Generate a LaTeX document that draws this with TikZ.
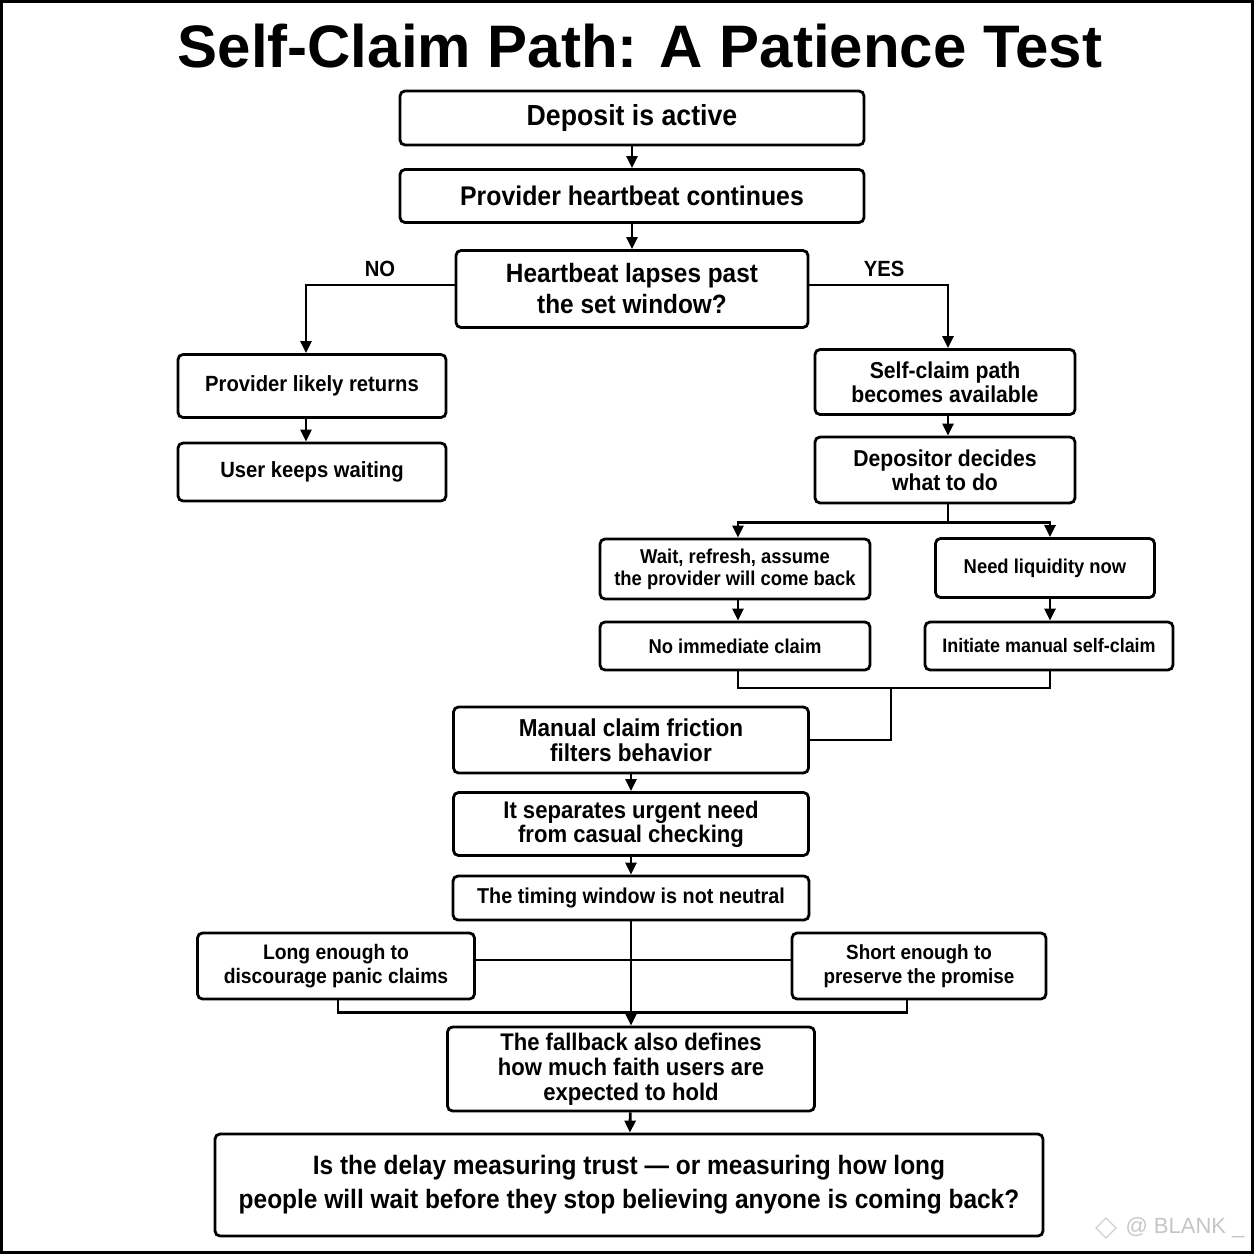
\documentclass[tikz,border=0pt]{standalone}
\usepackage{fontspec}
\setmainfont{Liberation Sans}
\newfontfamily\condfont[FakeStretch=0.92]{Liberation Sans}
\usetikzlibrary{arrows.meta}

\begin{document}
\begin{tikzpicture}[x=1pt,y=-1pt,
    box/.style={draw, line width=2.8pt, rounded corners=5pt, align=center, inner sep=0pt},
    txt/.style 2 args={font=\condfont\bfseries\fontsize{#1pt}{#2pt}\selectfont},
    arr/.style={line width=2.8pt, -{Triangle[length=12pt,width=11pt]}},
    link/.style={line width=2.8pt}]

    % page and frame
    \useasboundingbox (0,0) rectangle (1254,1254);
    \fill[white] (0,0) rectangle (1254,1254);
    \draw[line width=3pt] (1.5,1.5) rectangle (1252.5,1252.5);

    % title
    \node[font=\bfseries\fontsize{60}{66}\selectfont] (title) at (640,46) {Self-Claim Path: A Patience Test};

    % upper part
    \node[box, txt={29}{32}, minimum width=464pt, minimum height=54pt] (deposit) at (632,118) {Deposit is active};
    \node[box, txt={27}{30}, minimum width=464pt, minimum height=53pt] (beat) at (632,196) {Provider heartbeat continues};
    \node[box, txt={26.5}{31}, minimum width=352pt, minimum height=77pt] (lapse) at (632,289) {Heartbeat lapses past\\the set window?};
    \node[txt={22}{24}] (nolbl) at (380,269) {NO};
    \node[txt={22}{24}] (yeslbl) at (884,269) {YES};

    % NO branch
    \node[box, txt={22}{24}, minimum width=268pt, minimum height=63pt] (likely) at (312,386) {Provider likely returns};
    \node[box, txt={22}{24}, minimum width=268pt, minimum height=58pt] (keeps) at (312,472) {User keeps waiting};

    % YES branch
    \node[box, txt={23}{24}, minimum width=260pt, minimum height=65pt] (avail) at (945,382) {Self-claim path\\becomes available};
    \node[box, txt={23}{24}, minimum width=260pt, minimum height=66pt] (decides) at (945,470) {Depositor decides\\what to do};
    \node[box, txt={20}{22}, minimum width=270pt, minimum height=60pt] (waitrefresh) at (735,569) {Wait, refresh, assume\\the provider will come back};
    \node[box, txt={20}{22}, minimum width=219pt, minimum height=59pt] (liquidity) at (1045,568) {Need liquidity now};
    \node[box, txt={20}{22}, minimum width=270pt, minimum height=48pt] (noclaim) at (735,646) {No immediate claim};
    \node[box, txt={19.5}{22}, minimum width=248pt, minimum height=48pt] (initiate) at (1049,646) {Initiate manual self-claim};

    % lower part
    \node[box, txt={24.5}{25}, minimum width=355pt, minimum height=66pt] (friction) at (631,740) {Manual claim friction\\filters behavior};
    \node[box, txt={24}{24}, minimum width=355pt, minimum height=63pt] (separates) at (631,824) {It separates urgent need\\from casual checking};
    \node[box, txt={21.5}{24}, minimum width=356pt, minimum height=44pt] (timing) at (631,898) {The timing window is not neutral};
    \node[box, txt={21}{24}, minimum width=277pt, minimum height=66pt] (longenough) at (336,966) {Long enough to\\discourage panic claims};
    \node[box, txt={20.5}{24}, minimum width=254pt, minimum height=66pt] (shortenough) at (919,966) {Short enough to\\preserve the promise};
    \node[box, txt={24}{25}, minimum width=367pt, minimum height=84pt] (fallback) at (631,1069) {The fallback also defines\\how much faith users are\\expected to hold};
    \node[box, txt={26.6}{34}, minimum width=828pt, minimum height=102pt] (question) at (629,1185)
        {Is the delay measuring trust — or measuring how long\\people will wait before they stop believing anyone is coming back?};

    % connectors
    \draw[arr] (deposit) -- (beat);
    \draw[arr] (beat) -- (lapse);
    \draw[arr] ([yshift=4pt]lapse.west) -| ([xshift=-6pt]likely.north);
    \draw[arr] ([xshift=-6pt]likely.south) -- ([xshift=-6pt]keeps.north);
    \draw[arr] ([yshift=4pt]lapse.east) -| ([xshift=3pt]avail.north);
    \draw[arr] ([xshift=3pt]avail.south) -- ([xshift=3pt]decides.north);

    \draw[link] ([xshift=3pt]decides.south) -- ++(0,18) coordinate (split);
    \draw[arr] (split) -| ([xshift=3pt]waitrefresh.north);
    \draw[arr] (split) -| ([xshift=5pt]liquidity.north);
    \draw[arr] ([xshift=3pt]waitrefresh.south) -- ([xshift=3pt]noclaim.north);
    \draw[arr] ([xshift=5pt]liquidity.south) -- ([xshift=1pt]initiate.north);

    \coordinate (merge) at (891,688);
    \draw[link] ([xshift=3pt]noclaim.south) |- (merge) -| ([xshift=1pt]initiate.south);
    \draw[link] (merge) |- (friction.east);

    \draw[arr] (friction) -- (separates);
    \draw[arr] (separates) -- (timing);
    \draw[arr] (timing.south) -- (fallback.north);
    \draw[link] ([yshift=6pt]longenough.east) -- ([yshift=6pt]shortenough.west);
    \draw[link] ([xshift=2pt]longenough.south) -- ++(0,12) -| ([xshift=-12pt]shortenough.south);
    \draw[arr] (fallback) -- (question);

    % watermark
    \draw[gray!35, line width=1.2pt] (1106,1218) -- (1116,1228) -- (1106,1238) -- (1096,1228) -- cycle;
    \node[gray!45, font=\fontsize{22}{24}\selectfont, anchor=west] (mark) at (1122,1228) {@ BLANK \_};
\end{tikzpicture}
\end{document}
